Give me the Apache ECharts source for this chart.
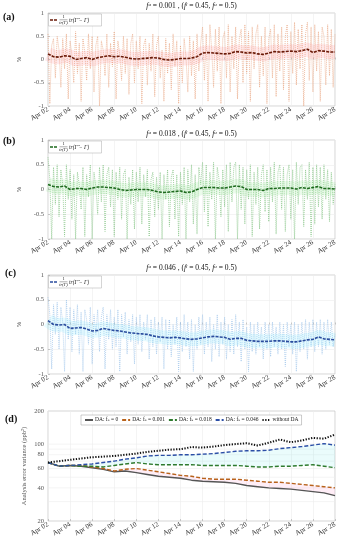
<!DOCTYPE html>
<html><head><meta charset="utf-8">
<script src="https://cdn.jsdelivr.net/npm/echarts@6/dist/echarts.min.js"></script>
<style>html,body{margin:0;padding:0;background:#fff}#c{width:344px;height:550px}</style>
</head><body><div id="c"></div>
<script>
// ---------- DATA ----------
const xTickLabels = ['Apr 02','Apr 04','Apr 06','Apr 08','Apr 10','Apr 12','Apr 14','Apr 16','Apr 18','Apr 20','Apr 22','Apr 24','Apr 26','Apr 28'];
const yTicksPct = [-1, -0.5, 0, 0.5, 1];
const yTicksVar = [20, 40, 60, 80, 100, 200];
const titles = ['0.001', '0.018', '0.046'];
// 4-hourly relative error (panel a, b, c), Apr 02 00:00 .. Apr 28 00:00
const rawA = [
 0.55,-0.95,0.30,0.45,-0.40,0.50, 0.20,-0.60,0.45,-0.20,0.55,-0.85, 0.40,0.10,-0.50,0.60,-0.30,0.35,
 -0.90,0.45,0.15,-0.45,0.55,-0.20, 0.50,-0.70,0.30,0.50,-1.00,0.40, 0.20,-0.35,0.55,-0.60,0.35,-0.15,
 0.60,-0.85,0.40,0.10,-0.45,0.50, -0.30,0.45,-0.75,0.35,0.55,-0.50, 0.40,-0.20,0.50,-0.95,0.30,0.45,
 -0.55,0.35,-0.25,0.55,-0.80,0.30, 0.50,-0.40,0.20,-0.90,0.45,-0.30, 0.35,-0.65,0.55,-0.15,0.40,-0.95,
 0.30,-0.50,0.45,0.05,-0.70,0.50, -0.35,0.40,-0.85,0.55,-0.25,0.35, 0.70,-0.45,0.55,-0.90,0.75,0.20,
 -0.60,0.65,-0.25,0.70,-0.95,0.45, 0.60,-0.40,0.75,-0.70,0.50,-0.20, 0.70,-0.85,0.45,0.65,-0.50,0.75,
 -0.30,0.60,-0.90,0.70,-0.20,0.55, 0.75,-0.60,0.50,-0.35,0.70,-0.95, 0.45,0.65,-0.40,0.75,-0.80,0.55,
 -0.25,0.70,-0.65,0.50,0.75,-0.90, 0.60,-0.30,0.80,-0.55,0.65,-0.20, 0.75,-1.00,0.55,0.80,-0.45,0.70,
 -0.70,0.75,-0.25,0.60,-0.90,0.70, 0.50,-0.55,0.75,-0.35,0.65,-0.60, 0.55];
const rawB = [
 0.65,0.20,-1.00,0.45,-0.30,0.50, -0.55,0.40,0.10,-0.95,0.50,-0.20, 0.40,-0.60,0.30,-1.00,0.35,0.10,
 -0.40,0.45,-0.95,0.30,-0.15,0.50, -1.00,0.35,0.05,-0.50,0.45,-0.25, 0.50,-0.85,0.30,0.45,-0.35,0.40,
 -0.95,0.35,-0.20,0.45,-0.60,0.30, 0.40,-1.00,0.25,-0.30,0.40,-0.80, 0.35,-0.25,0.45,-0.70,0.30,-0.15,
 0.40,-0.95,0.20,0.35,-0.55,0.25, -0.40,0.35,-1.00,0.30,-0.20,0.40, -0.75,0.25,0.40,-0.60,0.30,-0.95,
 0.35,-0.30,0.45,-1.00,0.40,-0.25, 0.50,-0.70,0.30,-0.90,0.45,0.10, 0.55,-0.45,0.50,-0.75,0.35,-0.20,
 0.55,-1.00,0.45,0.20,-0.55,0.40, -0.35,0.50,-0.85,0.55,-0.25,0.45, 0.55,-1.00,0.50,-0.40,0.45,-0.70,
 0.40,-0.20,0.50,-0.95,0.35,-0.30, 0.45,-0.80,0.30,0.50,-0.45,0.40, -0.65,0.45,-0.25,0.55,-0.90,0.35,
 0.50,-0.40,0.45,-0.85,0.30,0.50, -0.60,0.40,-1.00,0.55,-0.30,0.45, 0.50,-0.75,0.40,-0.20,0.55,-0.95,
 0.45,-0.70,0.50,-0.35,0.45,-0.60, 0.50,-0.20,0.40,-0.65,0.35,-0.30, 0.10];
const rawC = [
 0.55,0.20,-0.90,0.40,-0.20,0.45, -0.50,0.35,0.05,-0.95,0.50,-0.30, 0.35,-0.55,0.30,-0.20,0.40,-0.60,
 0.25,-0.95,0.30,0.10,-0.40,0.35, -0.80,0.20,-0.20,0.30,-0.55,0.15, 0.35,-0.90,0.20,-0.30,0.30,-0.50,
 0.15,-0.45,0.30,-0.95,0.20,-0.25, 0.25,-0.60,0.10,-0.35,0.20,-0.80, 0.15,-0.40,0.20,-0.55,0.05,-0.30,
 0.20,-0.70,0.10,-0.45,0.15,-0.60, 0.05,-0.35,0.15,-0.90,0.10,-0.50, 0.10,-0.65,0.00,-0.40,0.15,-0.95,
 0.05,-0.55,0.20,-0.45,0.05,-0.70, 0.10,-0.95,0.00,-0.50,0.15,-0.40, 0.20,-0.60,0.05,-0.45,0.15,-0.75,
 0.00,-0.50,0.20,-0.65,0.05,-0.40, 0.15,-0.70,0.00,-0.55,0.10,-0.60, 0.20,-0.45,0.05,-0.75,0.10,-0.50,
 -0.05,-0.95,0.05,-0.55,0.00,-0.60, 0.05,-0.45,-0.05,-0.70,0.05,-0.50, 0.00,-0.65,0.05,-0.45,-0.05,-0.60,
 0.05,-0.50,0.00,-0.85,0.05,-0.45, 0.00,-0.60,0.05,-0.95,0.00,-0.55, 0.05,-0.50,0.10,-0.70,0.05,-0.45,
 0.10,-0.55,0.05,-0.45,0.10,-0.60, 0.05,-0.50,0.10,-0.40,0.05,-0.45, -0.20];
// 12-hourly running mean
const meanA = [0.12,0.06,0.05,0.08,0.07,0.00,0.02,0.04,0.00,0.04,0.06,0.08,0.06,0.07,0.05,0.02,0.01,0.02,0.03,0.04,0.03,0.00,-0.01,0.00,0.02,0.02,0.03,0.06,0.14,0.15,0.14,0.13,0.12,0.13,0.17,0.16,0.14,0.15,0.12,0.11,0.14,0.17,0.16,0.17,0.18,0.17,0.19,0.22,0.15,0.19,0.18,0.16,0.16];
const meanB = [0.10,0.06,0.05,0.07,0.00,0.02,0.02,0.00,0.03,0.05,0.05,0.04,0.03,0.00,-0.02,-0.01,0.00,0.00,0.00,-0.02,-0.05,-0.06,-0.05,-0.04,-0.03,-0.06,-0.05,0.00,0.04,0.04,0.04,0.03,0.03,0.05,0.07,0.06,0.00,0.00,0.00,-0.02,0.02,0.02,0.03,0.03,0.03,0.01,0.04,0.02,0.04,0.06,0.02,0.02,0.01];
const meanC = [0.08,0.00,-0.01,0.00,-0.08,-0.07,-0.06,-0.09,-0.13,-0.12,-0.08,-0.10,-0.12,-0.13,-0.15,-0.17,-0.18,-0.19,-0.20,-0.23,-0.25,-0.26,-0.27,-0.26,-0.27,-0.29,-0.30,-0.29,-0.27,-0.25,-0.24,-0.25,-0.26,-0.30,-0.28,-0.28,-0.32,-0.33,-0.34,-0.34,-0.34,-0.33,-0.33,-0.34,-0.35,-0.35,-0.33,-0.31,-0.30,-0.25,-0.29,-0.30,-0.31];
// daily analysis error variance (ppb^2)
const varF0    = [68,63,64,63,61,59,56,57,55,53,51,50,49,47,46,45.5,45,44,42,41,40,39.5,39,38,37,36,34];
const varF001  = [68,63,64,64,62,60,57,59,60,58,56,54,52,51,49,48,48,48,47,46,45,45,44,43,42,41,40];
const varF018  = [68,63,64,63,63,62,64,66,68,66,65,65,65,65,64,64,64,64,63,62,62,63,63,64,65,63,61];
const varF046  = [68,63,64,65,66,68,70,73,75,78,79,79,80,80,81,82,84,86,87,87,88,91,93,95,98,101,98];
const varNoDA  = [68,70,72,74,76,77,78,80,82,85,87,89,90,94,93,95,98,100,102,97,103,110,104,108,114,112,122];

// ---------- CHART ----------
const chart = echarts.init(document.getElementById('c'), null, {renderer:'canvas'});
const SERIF = '"Liberation Serif","DejaVu Serif",serif';
const L = 48, W = 287;
const grids = [
  {left:L, top:13, width:W, height:93},
  {left:L, top:140, width:W, height:99},
  {left:L, top:275, width:W, height:99},
  {left:L, top:411, width:W, height:110}
];
const pal = [
  {dot:'#e8a27c', band:'rgba(255,90,110,0.13)', mean:'#6a1a08'},
  {dot:'#7fc27f', band:'rgba(60,220,60,0.10)', mean:'#1d6a1d'},
  {dot:'#9cc3ea', band:'rgba(60,220,255,0.12)', mean:'#2a4c9e'}
];
const xAxes = grids.map((g,i)=>({
  type:'value', gridIndex:i, min:0, max:26, interval:2,
  axisLine:{show:false}, axisTick:{inside:true,length:2,lineStyle:{color:'#999',width:0.5}},
  splitLine:{show:true,lineStyle:{color:'#ececec',width:0.6}},
  axisLabel:{rotate:30, fontSize:7, color:'#333', fontFamily:SERIF, margin:3,
    formatter:v=>xTickLabels[Math.round(v/2)]}
}));
const yAxes = [0,1,2].map(i=>({
  type:'value', gridIndex:i, min:-1, max:1, interval:0.5,
  name:'%', nameLocation:'middle', nameGap:17, nameTextStyle:{fontSize:6.5,color:'#555',fontFamily:SERIF},
  axisLine:{show:false}, axisTick:{inside:true,length:2,lineStyle:{color:'#999',width:0.5}},
  splitLine:{show:true,lineStyle:{color:'#ececec',width:0.6}},
  axisLabel:{fontSize:6.5,color:'#555',fontFamily:SERIF,margin:4,formatter:v=>String(v)}
}));
yAxes.push({type:'log', gridIndex:3, min:20, max:200, logBase:10,
  name:'Analysis error variance (ppb²)', nameLocation:'middle', nameGap:20,
  nameTextStyle:{fontSize:6.5,color:'#555',fontFamily:SERIF},
  axisLine:{show:false}, axisTick:{show:false}, splitLine:{show:false}, axisLabel:{show:false}});

const series = [];
[rawA,rawB,rawC].forEach((raw,k)=>{
  series.push({type:'line', xAxisIndex:k, yAxisIndex:k, symbol:'none', silent:true,
    data: raw.map((v,i)=>[i/6, v]),
    lineStyle:{color:pal[k].dot, width:0.7, type:[1,1]}, z:1});
});
[meanA,meanB,meanC].forEach((m,k)=>{
  const d = m.map((v,i)=>[i*0.5, v]);
  series.push({type:'line', xAxisIndex:k, yAxisIndex:k, symbol:'none', silent:true, data:d,
    lineStyle:{color:pal[k].band, width:14, cap:'butt'}, z:2});
  series.push({type:'line', xAxisIndex:k, yAxisIndex:k, symbol:'none', silent:true, data:d,
    lineStyle:{color:pal[k].mean, width:1.6, type:[3,1.2]}, z:3});
});
// panel d: shaded bands between pairs of curves (polygon through the axis scale)
function bandSeries(lower, upper, fill){
  return {type:'custom', xAxisIndex:3, yAxisIndex:3, silent:true, z:1,
    data:[[0, lower[0]]],
    renderItem:(params, api)=>{
      const pts = [];
      upper.forEach((v,i)=>pts.push(api.coord([i,v])));
      for(let i=lower.length-1;i>=0;i--) pts.push(api.coord([i,lower[i]]));
      return {type:'polygon', shape:{points:pts}, style:{fill:fill}};
    }};
}
series.push(bandSeries(varF0, varF001, 'rgba(255,120,190,0.13)'));
series.push(bandSeries(varF018, varF046, 'rgba(80,230,230,0.12)'));
const dSeries = [
  {name:'DA: fₛ = 0', data:varF0, color:'#555555', type:'solid', w:1.4},
  {name:'DA: fₛ = 0.001', data:varF001, color:'#b8621b', type:[4,2], w:1.4},
  {name:'DA: fₛ = 0.018', data:varF018, color:'#2e7a2e', type:[4,2], w:1.4},
  {name:'DA: fₛ = 0.046', data:varF046, color:'#2b4ea6', type:[4,2], w:1.4},
  {name:'without DA', data:varNoDA, color:'#111111', type:[1.3,1.5], w:2}
];
dSeries.forEach(s=>{
  series.push({name:s.name, type:'line', xAxisIndex:3, yAxisIndex:3, symbol:'none', silent:true,
    data:s.data.map((v,i)=>[i,v]), color:s.color, lineStyle:{color:s.color, width:s.w, type:s.type}, z:3});
});

chart.setOption({
  animation:false,
  grid: grids.map(g=>Object.assign({show:true, borderColor:'#bbb', borderWidth:0.6, backgroundColor:'#fff'}, g)),
  xAxis:xAxes, yAxis:yAxes, series:series,
  legend:{left:81, top:415, itemWidth:8, itemHeight:4, itemGap:3, padding:[2,3],
    borderColor:'#999', borderWidth:0.5, backgroundColor:'#fff',
    itemStyle:{opacity:0},
    textStyle:{fontSize:5.5, fontFamily:SERIF, color:'#222', padding:[0,0,0,-3]},
    data:dSeries.map(s=>s.name)}
});

// ---------- graphics (computed through the chart's scales) ----------
const G = [];
const panelLab = [['(a)',3,12],['(b)',3,136],['(c)',5,268],['(d)',5,414]];
panelLab.forEach(p=>G.push({type:'text', x:p[1], y:p[2], z:100,
  style:{text:p[0], font:'bold 10px '+SERIF, fill:'#111'}}));
const titleY = [2, 130, 264];
titles.forEach((t,k)=>{
  G.push({type:'text', x:L+W/2, y:titleY[k], z:100, style:{
    text:'{i|f}{s|a} = '+t+' , ({i|f}{s|l} = 0.45, {i|f}{s|u} = 0.5)',
    align:'center', font:'7.5px '+SERIF, fill:'#111',
    rich:{i:{fontStyle:'italic',fontSize:7.5,fontFamily:SERIF,verticalAlign:'bottom'},
          s:{fontStyle:'italic',fontSize:5,fontFamily:SERIF,verticalAlign:'top'}}}});
});
grids.slice(0,3).forEach((g,k)=>{
  const t = g.top;
  G.push({type:'rect', z:100, shape:{x:48.5,y:t+1,width:53,height:12}, style:{fill:'#fff',stroke:'#aaa',lineWidth:0.5}});
  G.push({type:'line', z:101, shape:{x1:50,y1:t+7,x2:58,y2:t+7}, style:{stroke:pal[k].mean,lineWidth:1.6,lineDash:[3,1]}});
  G.push({type:'text', z:101, x:63.5, y:t+1.6, style:{text:'1', font:'4.5px '+SERIF, fill:'#222', align:'center'}});
  G.push({type:'line', z:101, shape:{x1:59.5,y1:t+6.8,x2:67.5,y2:t+6.8}, style:{stroke:'#333',lineWidth:0.4}});
  G.push({type:'text', z:101, x:63.5, y:t+7.4, style:{text:'tr(Γ)', font:'italic 4.5px '+SERIF, fill:'#222', align:'center'}});
  G.push({type:'text', z:101, x:69, y:t+4.5, style:{text:'tr(Γ̂ − Γ)', font:'italic 5.5px '+SERIF, fill:'#222'}});
});
// log-axis labels and grid
const gridVals = [30,40,50,60,70,80,90,100];
gridVals.forEach(v=>{
  const y = chart.convertToPixel({yAxisIndex:3}, v);
  G.push({type:'line', z:0, silent:true, shape:{x1:L,y1:y,x2:L+W,y2:y}, style:{stroke:'#ececec',lineWidth:0.6}});
});
yTicksVar.forEach(v=>{
  const y = chart.convertToPixel({yAxisIndex:3}, v);
  G.push({type:'text', z:100, x:L-4, y:y, style:{text:String(v), font:'6.5px '+SERIF, fill:'#555', align:'right', verticalAlign:'middle'}});
});
chart.setOption({graphic:G});
</script></body></html>
